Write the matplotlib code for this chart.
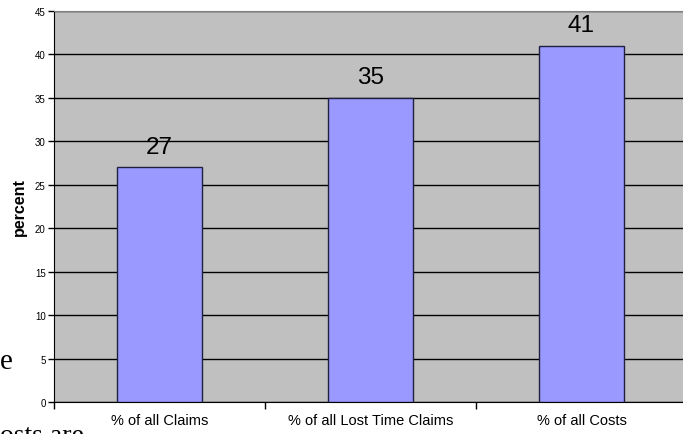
import numpy as np
import matplotlib
matplotlib.use('Agg')
import matplotlib.pyplot as plt

############################################################
# Data

categories = ['% of all Claims', '% of all Lost Time Claims', '% of all Costs']
values = [27, 35, 41]
yticks = [0, 5, 10, 15, 20, 25, 30, 35, 40, 45]

############################################################
# Plotting

plt.rcParams['font.family'] = ['Liberation Sans', 'DejaVu Sans']

fig = plt.figure(figsize=(6.83, 4.35), dpi=100)
ax = fig.add_axes([54 / 683, 1 - 403 / 435, 633 / 683, 391 / 435])
ax.set_facecolor('#C0C0C0')

x = np.arange(len(categories))
ax.bar(x, values, width=0.4, color='#9999FF', edgecolor='#202040', linewidth=1, zorder=3)

for xi, v in zip(x, values):
    ax.text(xi, v + 1.1, str(v), ha='center', va='bottom', fontsize=17.5, zorder=4)

ax.set_ylim(0, 45)
ax.set_xlim(-0.5, 2.5)
ax.set_yticks(yticks)
ax.set_yticklabels([str(t) for t in yticks], fontsize=7)
ax.yaxis.grid(True, color='black', linewidth=1, zorder=1)
ax.set_axisbelow(True)

# category ticks on the boundaries, labels centred under the bars
ax.set_xticks([-0.5, 0.5, 1.5, 2.5])
ax.set_xticklabels([])
ax.set_xticks(x, minor=True)
ax.set_xticklabels(categories, minor=True, fontsize=10.5)
ax.tick_params(axis='x', which='minor', length=0, pad=8)
ax.tick_params(axis='x', which='major', length=5, width=1, direction='out')
ax.tick_params(axis='y', length=4, width=1, direction='out', pad=2)

ax.set_ylabel('percent', fontsize=11.5, fontweight='bold', labelpad=6)

ax.spines['top'].set_color('#808080')
ax.spines['right'].set_color('#808080')
ax.spines['left'].set_color('black')
ax.spines['bottom'].set_color('black')

# fragments of the surrounding page text (cut by the image edges)
fig.text(0.0, 1 - 369 / 435, 'e', fontsize=21, family='Liberation Serif', ha='left', va='baseline')
fig.text(0.0, 1 - 443 / 435, 'osts are', fontsize=20, family='Liberation Serif', ha='left', va='baseline')

fig.savefig('out.png', dpi=100)
